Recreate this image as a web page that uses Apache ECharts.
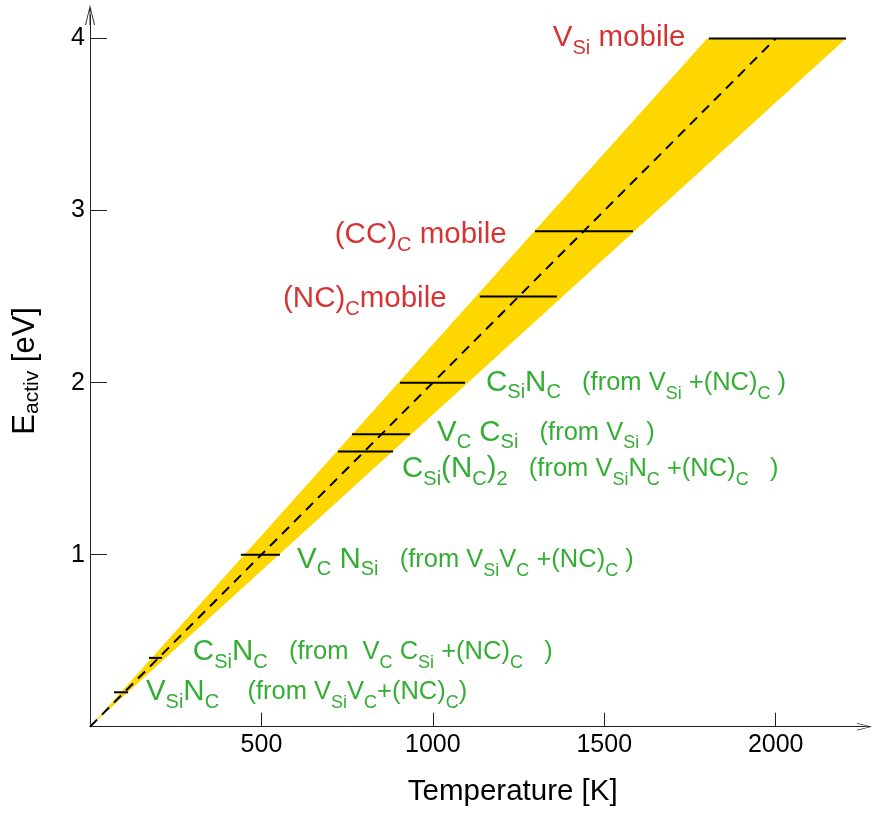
<!DOCTYPE html>
<html>
<head>
<meta charset="utf-8">
<script src="https://cdn.jsdelivr.net/npm/echarts@6/dist/echarts.min.js"></script>
<style>
  html, body { margin: 0; padding: 0; background: #fff; }
  #chart { width: 876px; height: 813px; }
</style>
</head>
<body>
<div id="chart"></div>
<script>
// Activation-energy band: T = 450E .. 550E, centre line T = 500E
var bandT = [0, 1800, 2205];
var bandE = [0, 4, 4];
var dashT = [0, 2000];
var dashE = [0, 4];

// Horizontal level marks (activation energy in eV, temperature span in K)
var levelE    = [4.0, 2.88, 2.5, 2.0, 1.7, 1.6, 1.0, 0.4, 0.2];
var levelTLow = [1805, 1298, 1137, 904, 764, 723, 440, 172, 70];
var levelTHigh= [2205, 1584, 1362, 1094, 933, 884, 554, 210, 111];

// Defect labels: anchor (T, E) for the left edge of each text
var labelT = [1350, 714, 563, 1155, 1012, 910, 604, 300, 163];
var labelE = [4.003, 2.858, 2.486, 1.998, 1.710, 1.498, 0.97, 0.434, 0.20];
var labelText = [
  '{r|V}{rs|Si}{r| mobile}',
  '{r|(CC)}{rs|C}{r| mobile}',
  '{r|(NC)}{rs|C}{r|mobile}',
  '{g|C}{gs|Si}{g|N}{gs|C}{f|   (from V}{fs|Si}{f| +(NC)}{fs|C}{f| )}',
  '{g|V}{gs|C}{g| C}{gs|Si}{f|   (from V}{fs|Si}{f| )}',
  '{g|C}{gs|Si}{g|(N}{gs|C}{g|)}{gs|2}{f|   (from V}{fs|Si}{f|N}{fs|C}{f| +(NC)}{fs|C}{f|   )}',
  '{g|V}{gs|C}{g| N}{gs|Si}{f|   (from V}{fs|Si}{f|V}{fs|C}{f| +(NC)}{fs|C}{f| )}',
  '{g|C}{gs|Si}{g|N}{gs|C}{f|   (from  V}{fs|C}{f| C}{fs|Si}{f| +(NC)}{fs|C}{f|   )}',
  '{g|V}{gs|Si}{g|N}{gs|C}{f|    (from V}{fs|Si}{f|V}{fs|C}{f|+(NC)}{fs|C}{f|)}'
];

var xTicks = [500, 1000, 1500, 2000];
var yTicks = [1, 2, 3, 4];

var FONT = "'Liberation Sans', Arial, Helvetica, sans-serif";
var RED = '#cc0000';
var GREEN = '#009a00';
var AXIS = '#222';
var ARROW = 'path://M5,0 L10,20 L9,20 L5,3 L1,20 L0,20 Z M4.5,1 L5.5,1 L5.5,20 L4.5,20 Z';

function tok(size, color, sub) {
  var s = { fontSize: size, color: color, fontFamily: FONT };
  if (sub) { s.lineHeight = size; s.verticalAlign = 'bottom'; }
  else { s.lineHeight = 40; s.verticalAlign = 'middle'; }
  return s;
}

var rich = {
  r: tok(29.5, RED), rs: tok(20, RED, true),
  g: tok(29.5, GREEN), gs: tok(20, GREEN, true),
  f: tok(25.5, GREEN), fs: tok(18, GREEN, true)
};

var bandPoints = bandT.map(function (t, i) { return [t, bandE[i]]; });
var levelData = levelE.map(function (e, i) { return [levelTLow[i], levelTHigh[i], e]; });
var labelData = labelT.map(function (t, i) { return { value: [t, labelE[i]], text: labelText[i] }; });

var chart = echarts.init(document.getElementById('chart'), null, { renderer: 'canvas' });

chart.setOption({
  animation: false,
  backgroundColor: '#fff',
  grid: { left: 90, right: 11.5, top: 15, bottom: 86.3 },
  xAxis: {
    type: 'value', min: 0, max: 2259,
    name: 'Temperature [K]', nameLocation: 'middle', nameGap: 50,
    nameTextStyle: { fontSize: 29.5, color: '#000', fontFamily: FONT, padding: [0, 0, 0, 71] },
    splitLine: { show: false },
    axisLine: { show: true, onZero: false, symbol: ['none', ARROW], symbolSize: [10, 15],
      lineStyle: { color: AXIS, width: 1 } },
    axisTick: { show: true, inside: true, length: 14, customValues: xTicks,
      lineStyle: { color: AXIS, width: 1 } },
    axisLabel: { customValues: xTicks, fontSize: 25, color: '#000', fontFamily: FONT, margin: 6,
      formatter: function (v) { return String(v); } }
  },
  yAxis: {
    type: 'value', min: 0, max: 4.137,
    name: '{a|E}{s|activ}{a| [eV]}', nameLocation: 'middle', nameGap: 47, nameRotate: 90,
    nameTextStyle: { rich: {
      a: { fontSize: 31, color: '#000', fontFamily: FONT, lineHeight: 36, verticalAlign: 'middle' },
      s: { fontSize: 21, color: '#000', fontFamily: FONT, lineHeight: 21, verticalAlign: 'bottom' }
    } },
    splitLine: { show: false },
    axisLine: { show: true, onZero: false, symbol: ['none', ARROW], symbolSize: [10, 20],
      lineStyle: { color: AXIS, width: 1 } },
    axisTick: { show: true, inside: true, length: 17, customValues: yTicks,
      lineStyle: { color: AXIS, width: 1 } },
    axisLabel: { customValues: yTicks, fontSize: 25, color: '#000', fontFamily: FONT, margin: 5 }
  },
  series: [
    {
      type: 'custom', name: 'band', z: 1,
      data: bandPoints,
      renderItem: function (params, api) {
        if (params.dataIndex !== 0) return null;
        var pts = bandPoints.map(function (p) { return api.coord(p); });
        return { type: 'polygon', shape: { points: pts }, style: { fill: '#ffd700' } };
      }
    },
    {
      type: 'line', name: 'centre', z: 3, symbol: 'none',
      data: dashT.map(function (t, i) { return [t, dashE[i]]; }),
      lineStyle: { color: '#000', width: 2, type: [10, 7] }
    },
    {
      type: 'custom', name: 'levels', z: 4,
      data: levelData,
      renderItem: function (params, api) {
        var a = api.coord([api.value(0), api.value(2)]);
        var b = api.coord([api.value(1), api.value(2)]);
        return { type: 'line', shape: { x1: a[0], y1: a[1], x2: b[0], y2: b[1] },
          style: { stroke: '#000', lineWidth: 2 } };
      }
    },
    {
      type: 'scatter', name: 'labels', z: 5, symbolSize: 0,
      data: labelData,
      label: {
        show: true, position: 'right', distance: 0,
        formatter: function (p) { return p.data.text; },
        rich: rich
      }
    }
  ]
});
</script>
</body>
</html>
